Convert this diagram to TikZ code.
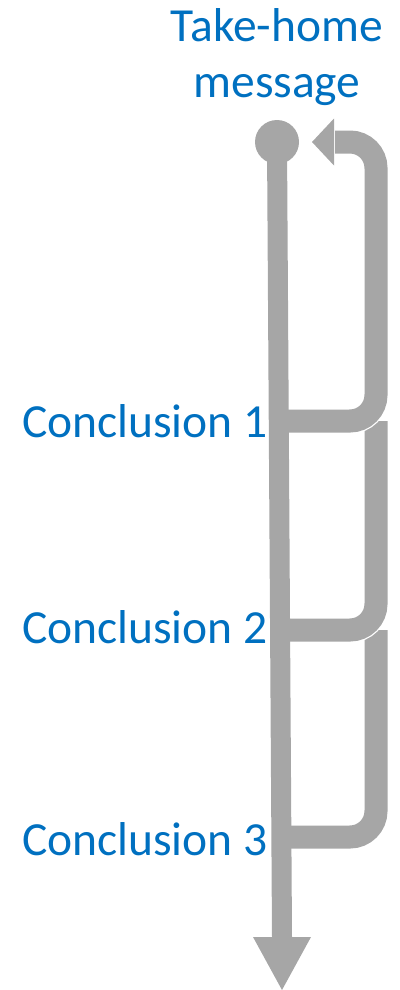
\documentclass[tikz,border=0pt]{standalone}
\usepackage{fontspec}
\setmainfont{Carlito}
\definecolor{flowgray}{HTML}{A6A6A6}
\definecolor{labelblue}{HTML}{0070C0}
\tikzset{
  lbl/.style={text=labelblue, font=\fontsize{47.5}{55}\selectfont, inner sep=0pt},
  hookback/.style={draw=white, line width=25.5pt, rounded corners=26pt},
  hookfront/.style={draw=flowgray, line width=23pt, rounded corners=26pt},
  shaft/.style={draw=flowgray, line width=20pt},
}
\begin{document}
\begin{tikzpicture}[x=1pt,y=-1pt]
\useasboundingbox (0,0) rectangle (399,990);
% named points
\coordinate (top) at (277,142);
\coordinate (b1) at (278.6,421);
\coordinate (b2) at (279.9,630);
\coordinate (b3) at (281.1,837);
\coordinate (r1) at (376,421);
\coordinate (r2) at (376,630);
\coordinate (r3) at (376,837);
\coordinate (rt) at (376,142);
\coordinate (hbase) at (334,142);
\coordinate (htip) at (312,142);
\coordinate (sbase) at (282,937);
\coordinate (stip) at (282,990);
% hook 3
\draw[hookback] (b3) -- (r3) -- (376,628);
\draw[hookfront] (b3) -- (r3) -- (r2);
% hook 2
\draw[hookback] (b2) -- (r2) -- (376,419);
\draw[hookfront] (b2) -- (r2) -- (r1);
% hook 1
\draw[hookback] (b1) -- (r1) -- (rt) -- (hbase);
\draw[hookfront] (b1) -- (r1) -- (rt) -- ([xshift=1pt]hbase);
\fill[flowgray] (htip) -- ([yshift=-23.5pt]hbase) -- ([yshift=23.5pt]hbase) -- cycle;
% main shaft
\draw[shaft] (top) -- (sbase);
\fill[flowgray] (stip) -- ([xshift=-29pt]sbase) -- ([xshift=29pt]sbase) -- cycle;
\fill[flowgray] (top) circle (22pt);
% labels
\node[lbl, anchor=base, align=center] (take) at (277,97) {Take-home\\message};
\node[lbl, anchor=base east] (c1) at (268,437) {Conclusion 1};
\node[lbl, anchor=base east] (c2) at (268,643) {Conclusion 2};
\node[lbl, anchor=base east] (c3) at (268,855) {Conclusion 3};
\end{tikzpicture}
\end{document}
